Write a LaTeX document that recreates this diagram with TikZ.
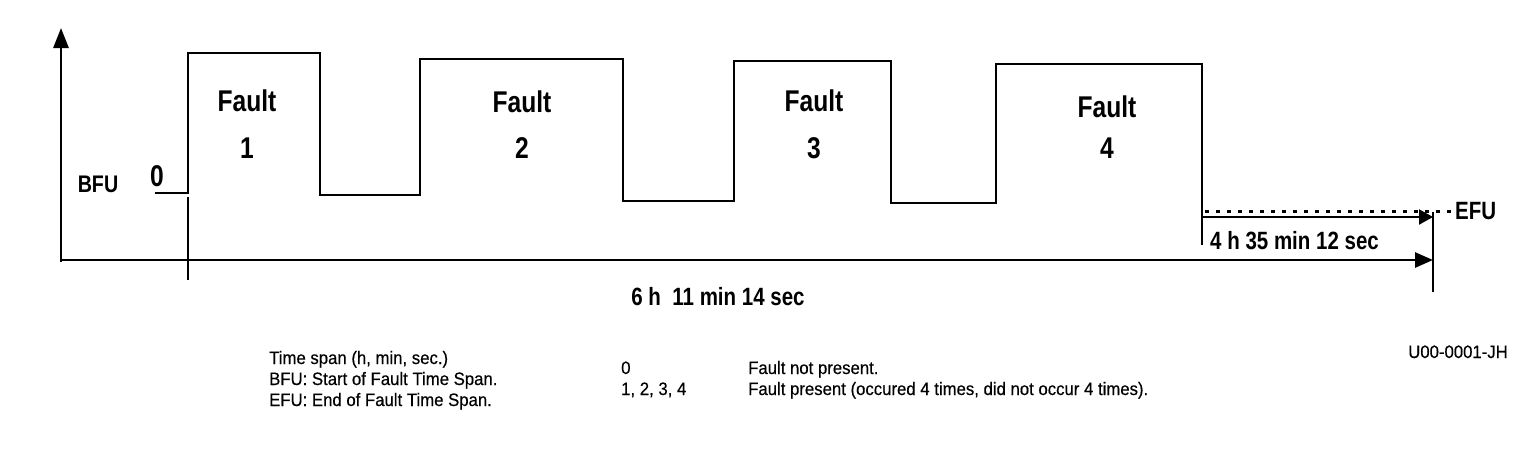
\documentclass[tikz,border=0pt]{standalone}
\usepackage{fontspec}
\setmainfont{Liberation Sans}
\newfontfamily\lblfont[FakeStretch=0.82]{Liberation Sans}
\newfontfamily\legfont[FakeStretch=0.93,FakeBold=0.4]{Liberation Sans}
\usetikzlibrary{arrows.meta}
\tikzset{
  sig/.style={line width=2.8pt},
  fault/.style={font=\lblfont\bfseries\fontsize{30}{30}\selectfont,inner sep=0pt},
  tspan/.style={font=\lblfont\bfseries\fontsize{23}{23}\selectfont,inner sep=0pt},
  legend/.style={font=\legfont\fontsize{18}{18}\selectfont,inner sep=0pt,anchor=base west},
}
\begin{document}
\begin{tikzpicture}[x=1pt,y=-1pt]
                \useasboundingbox (0,0) rectangle (1536,450);

                \draw[->,>={Triangle[length=20pt,width=15pt]},sig] (61,262)--(61,28); %y軸
                \draw[->,>={Triangle[length=18pt,width=15pt]},sig] (61,260)--(1433,260); %x軸
                \coordinate (BFU0) at (155,193); %開始
                \coordinate (EFU0) at (1202,245); %終了
                \coordinate (T0) at (1433,212); %終点
                \coordinate (E) at (1455,211); %点線の端

                \draw[sig] (BFU0) -| (188,53) -| (320,195) -| (420,59) -| (623,201)
                      -| (734,61) -| (891,203) -| (996,64) -| (EFU0); %信号
                \draw[sig] (188,197) -- (188,280); %開始の目盛
                \draw[sig] (T0) -- (1433,292); %終点の目盛
                \draw[line width=3pt,dash pattern=on 4pt off 7pt] (1205,211) -- (E); %点線
                \draw[->,>={Triangle[length=14pt,width=15pt]},line width=2.2pt] (1202,217) -- (T0|-0,217);

                \foreach \x/\y/\n in {247/101/1,522/102/2,814/101/3,1107/107/4}
                {
                  \node[fault] (f\n) at (\x,\y) {Fault};
                  \node[fault] (n\n) at (\x,148) {\n};
                }
                \node[tspan,font=\lblfont\bfseries\fontsize{24}{24}\selectfont] (bfu) at (98,184) {BFU};
                \node[fault] (zero) at (157,176) {0};
                \node[tspan,anchor=west,font=\lblfont\bfseries\fontsize{25}{25}\selectfont] (efu) at (E) {EFU};
                \node[tspan,font=\lblfont\bfseries\fontsize{25}{25}\selectfont] (tall) at (718,297) {6 h\ \ 11 min 14 sec};
                \node[tspan,anchor=west,font=\lblfont\bfseries\fontsize{25}{25}\selectfont] (trest) at (1210,241) {4 h 35 min 12 sec};

                \node[legend] (l1) at (269,364) {Time span (h, min, sec.)};
                \node[legend] (l2) at (269,385) {BFU: Start of Fault Time Span.};
                \node[legend] (l3) at (269,406) {EFU: End of Fault Time Span.};
                \node[legend] (k0) at (621,374) {0};
                \node[legend] (k1) at (621,395) {1, 2, 3, 4};
                \node[legend] (d0) at (748,374) {Fault not present.};
                \node[legend] (d1) at (748,395) {Fault present (occured 4 times, did not occur 4 times).};
                \node[legend,anchor=base east] (ref) at (1508,358) {U00-0001-JH};

            \end{tikzpicture}
\end{document}
